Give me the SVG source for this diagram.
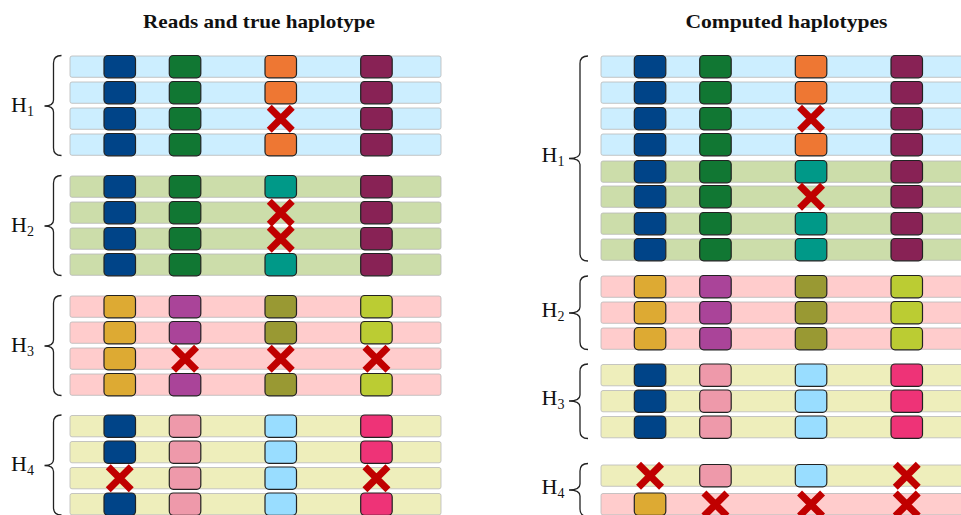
<svg xmlns="http://www.w3.org/2000/svg" xmlns:xlink="http://www.w3.org/1999/xlink" width="961" height="515" viewBox="0 0 961 515">
<style>
.title{font-family:"Liberation Serif","DejaVu Serif",serif;font-weight:bold;font-size:19px;fill:#111;text-anchor:middle}
.lab{font-family:"Liberation Serif","DejaVu Serif",serif;font-size:22px;fill:#111}
.sub{font-size:14px}
.bar{stroke:#b9b9b9;stroke-width:0.8}
.pb{fill:#CCEEFF}.pg{fill:#CCDDAA}.pr{fill:#FFCCCC}.py{fill:#EEEEBB}
.blk{stroke:#222;stroke-width:1.2}
.B{fill:#004488}.G{fill:#117733}.O{fill:#EE7733}.W{fill:#882255}.T{fill:#009988}
.S{fill:#DDAA33}.P{fill:#AA4499}.Ol{fill:#999933}.L{fill:#BBCC33}
.Pk{fill:#EE99AA}.LB{fill:#99DDFF}.M{fill:#EE3377}
.brace{fill:none;stroke:#222;stroke-width:1.3}
</style>
<defs>
<g id="x"><path d="M-11.5,-11.5L11.5,11.5M-11.5,11.5L11.5,-11.5" stroke="#C00000" stroke-width="7" fill="none"/></g>
</defs>

<text class="title" x="259" y="28" textLength="232" lengthAdjust="spacingAndGlyphs">Reads and true haplotype</text>
<text class="title" x="786.5" y="28" textLength="202" lengthAdjust="spacingAndGlyphs">Computed haplotypes</text>

<!-- LEFT PANEL -->
<g id="L-H1">
<g id="L-H1-r1"><rect class="bar pb" x="70" y="56" width="371" height="21.3" rx="2"/><rect class="blk B" x="104" y="55.5" width="31.5" height="22.3" rx="4"/><rect class="blk G" x="169.3" y="55.5" width="31.5" height="22.3" rx="4"/><rect class="blk O" x="265" y="55.5" width="31.5" height="22.3" rx="4"/><rect class="blk W" x="360.7" y="55.5" width="31.5" height="22.3" rx="4"/></g>
<g id="L-H1-r2"><rect class="bar pb" x="70" y="82" width="371" height="21.3" rx="2"/><rect class="blk B" x="104" y="81.5" width="31.5" height="22.3" rx="4"/><rect class="blk G" x="169.3" y="81.5" width="31.5" height="22.3" rx="4"/><rect class="blk O" x="265" y="81.5" width="31.5" height="22.3" rx="4"/><rect class="blk W" x="360.7" y="81.5" width="31.5" height="22.3" rx="4"/></g>
<g id="L-H1-r3"><rect class="bar pb" x="70" y="108" width="371" height="21.3" rx="2"/><rect class="blk B" x="104" y="107.5" width="31.5" height="22.3" rx="4"/><rect class="blk G" x="169.3" y="107.5" width="31.5" height="22.3" rx="4"/><use xlink:href="#x" x="280.75" y="118.7"/><rect class="blk W" x="360.7" y="107.5" width="31.5" height="22.3" rx="4"/></g>
<g id="L-H1-r4"><rect class="bar pb" x="70" y="134" width="371" height="21.3" rx="2"/><rect class="blk B" x="104" y="133.5" width="31.5" height="22.3" rx="4"/><rect class="blk G" x="169.3" y="133.5" width="31.5" height="22.3" rx="4"/><rect class="blk O" x="265" y="133.5" width="31.5" height="22.3" rx="4"/><rect class="blk W" x="360.7" y="133.5" width="31.5" height="22.3" rx="4"/></g>
</g>
<g id="L-H2">
<g id="L-H2-r1"><rect class="bar pg" x="70" y="176" width="371" height="21.3" rx="2"/><rect class="blk B" x="104" y="175.5" width="31.5" height="22.3" rx="4"/><rect class="blk G" x="169.3" y="175.5" width="31.5" height="22.3" rx="4"/><rect class="blk T" x="265" y="175.5" width="31.5" height="22.3" rx="4"/><rect class="blk W" x="360.7" y="175.5" width="31.5" height="22.3" rx="4"/></g>
<g id="L-H2-r2"><rect class="bar pg" x="70" y="202" width="371" height="21.3" rx="2"/><rect class="blk B" x="104" y="201.5" width="31.5" height="22.3" rx="4"/><rect class="blk G" x="169.3" y="201.5" width="31.5" height="22.3" rx="4"/><rect class="blk W" x="360.7" y="201.5" width="31.5" height="22.3" rx="4"/></g>
<g id="L-H2-r3"><rect class="bar pg" x="70" y="228" width="371" height="21.3" rx="2"/><rect class="blk B" x="104" y="227.5" width="31.5" height="22.3" rx="4"/><rect class="blk G" x="169.3" y="227.5" width="31.5" height="22.3" rx="4"/><rect class="blk W" x="360.7" y="227.5" width="31.5" height="22.3" rx="4"/></g>
<g id="L-H2-r4"><rect class="bar pg" x="70" y="254" width="371" height="21.3" rx="2"/><rect class="blk B" x="104" y="253.5" width="31.5" height="22.3" rx="4"/><rect class="blk G" x="169.3" y="253.5" width="31.5" height="22.3" rx="4"/><rect class="blk T" x="265" y="253.5" width="31.5" height="22.3" rx="4"/><rect class="blk W" x="360.7" y="253.5" width="31.5" height="22.3" rx="4"/></g>
<use xlink:href="#x" x="280.75" y="212.7"/><use xlink:href="#x" x="280.75" y="238.7"/>
</g>
<g id="L-H3">
<g id="L-H3-r1"><rect class="bar pr" x="70" y="296" width="371" height="21.3" rx="2"/><rect class="blk S" x="104" y="295.5" width="31.5" height="22.3" rx="4"/><rect class="blk P" x="169.3" y="295.5" width="31.5" height="22.3" rx="4"/><rect class="blk Ol" x="265" y="295.5" width="31.5" height="22.3" rx="4"/><rect class="blk L" x="360.7" y="295.5" width="31.5" height="22.3" rx="4"/></g>
<g id="L-H3-r2"><rect class="bar pr" x="70" y="322" width="371" height="21.3" rx="2"/><rect class="blk S" x="104" y="321.5" width="31.5" height="22.3" rx="4"/><rect class="blk P" x="169.3" y="321.5" width="31.5" height="22.3" rx="4"/><rect class="blk Ol" x="265" y="321.5" width="31.5" height="22.3" rx="4"/><rect class="blk L" x="360.7" y="321.5" width="31.5" height="22.3" rx="4"/></g>
<g id="L-H3-r3"><rect class="bar pr" x="70" y="348" width="371" height="21.3" rx="2"/><rect class="blk S" x="104" y="347.5" width="31.5" height="22.3" rx="4"/></g>
<g id="L-H3-r4"><rect class="bar pr" x="70" y="374" width="371" height="21.3" rx="2"/><rect class="blk S" x="104" y="373.5" width="31.5" height="22.3" rx="4"/><rect class="blk P" x="169.3" y="373.5" width="31.5" height="22.3" rx="4"/><rect class="blk Ol" x="265" y="373.5" width="31.5" height="22.3" rx="4"/><rect class="blk L" x="360.7" y="373.5" width="31.5" height="22.3" rx="4"/></g>
<use xlink:href="#x" x="185.05" y="358.7"/><use xlink:href="#x" x="280.75" y="358.7"/><use xlink:href="#x" x="376.45" y="358.7"/>
</g>
<g id="L-H4">
<g id="L-H4-r1"><rect class="bar py" x="70" y="415.5" width="371" height="21.3" rx="2"/><rect class="blk B" x="104" y="415" width="31.5" height="22.3" rx="4"/><rect class="blk Pk" x="169.3" y="415" width="31.5" height="22.3" rx="4"/><rect class="blk LB" x="265" y="415" width="31.5" height="22.3" rx="4"/><rect class="blk M" x="360.7" y="415" width="31.5" height="22.3" rx="4"/></g>
<g id="L-H4-r2"><rect class="bar py" x="70" y="441.5" width="371" height="21.3" rx="2"/><rect class="blk B" x="104" y="441" width="31.5" height="22.3" rx="4"/><rect class="blk Pk" x="169.3" y="441" width="31.5" height="22.3" rx="4"/><rect class="blk LB" x="265" y="441" width="31.5" height="22.3" rx="4"/><rect class="blk M" x="360.7" y="441" width="31.5" height="22.3" rx="4"/></g>
<g id="L-H4-r3"><rect class="bar py" x="70" y="467.5" width="371" height="21.3" rx="2"/><rect class="blk Pk" x="169.3" y="467" width="31.5" height="22.3" rx="4"/><rect class="blk LB" x="265" y="467" width="31.5" height="22.3" rx="4"/></g>
<g id="L-H4-r4"><rect class="bar py" x="70" y="493.5" width="371" height="21.3" rx="2"/><rect class="blk B" x="104" y="493" width="31.5" height="22.3" rx="4"/><rect class="blk Pk" x="169.3" y="493" width="31.5" height="22.3" rx="4"/><rect class="blk LB" x="265" y="493" width="31.5" height="22.3" rx="4"/><rect class="blk M" x="360.7" y="493" width="31.5" height="22.3" rx="4"/></g>
<use xlink:href="#x" x="119.75" y="478.2"/><use xlink:href="#x" x="376.45" y="478.2"/>
</g>

<!-- RIGHT PANEL -->
<g id="R-H1">
<g id="R-H1-r1"><rect class="bar pb" x="601" y="56" width="380" height="21.3" rx="2"/><rect class="blk B" x="634.3" y="55.5" width="31.5" height="22.3" rx="4"/><rect class="blk G" x="699.7" y="55.5" width="31.5" height="22.3" rx="4"/><rect class="blk O" x="795.3" y="55.5" width="31.5" height="22.3" rx="4"/><rect class="blk W" x="891" y="55.5" width="31.5" height="22.3" rx="4"/></g>
<g id="R-H1-r2"><rect class="bar pb" x="601" y="82" width="380" height="21.3" rx="2"/><rect class="blk B" x="634.3" y="81.5" width="31.5" height="22.3" rx="4"/><rect class="blk G" x="699.7" y="81.5" width="31.5" height="22.3" rx="4"/><rect class="blk O" x="795.3" y="81.5" width="31.5" height="22.3" rx="4"/><rect class="blk W" x="891" y="81.5" width="31.5" height="22.3" rx="4"/></g>
<g id="R-H1-r3"><rect class="bar pb" x="601" y="108" width="380" height="21.3" rx="2"/><rect class="blk B" x="634.3" y="107.5" width="31.5" height="22.3" rx="4"/><rect class="blk G" x="699.7" y="107.5" width="31.5" height="22.3" rx="4"/><use xlink:href="#x" x="811.05" y="118.7"/><rect class="blk W" x="891" y="107.5" width="31.5" height="22.3" rx="4"/></g>
<g id="R-H1-r4"><rect class="bar pb" x="601" y="134" width="380" height="21.3" rx="2"/><rect class="blk B" x="634.3" y="133.5" width="31.5" height="22.3" rx="4"/><rect class="blk G" x="699.7" y="133.5" width="31.5" height="22.3" rx="4"/><rect class="blk O" x="795.3" y="133.5" width="31.5" height="22.3" rx="4"/><rect class="blk W" x="891" y="133.5" width="31.5" height="22.3" rx="4"/></g>
<g id="R-H1-r5"><rect class="bar pg" x="601" y="161" width="380" height="21.3" rx="2"/><rect class="blk B" x="634.3" y="160.5" width="31.5" height="22.3" rx="4"/><rect class="blk G" x="699.7" y="160.5" width="31.5" height="22.3" rx="4"/><rect class="blk T" x="795.3" y="160.5" width="31.5" height="22.3" rx="4"/><rect class="blk W" x="891" y="160.5" width="31.5" height="22.3" rx="4"/></g>
<g id="R-H1-r6"><rect class="bar pg" x="601" y="186" width="380" height="21.3" rx="2"/><rect class="blk B" x="634.3" y="185.5" width="31.5" height="22.3" rx="4"/><rect class="blk G" x="699.7" y="185.5" width="31.5" height="22.3" rx="4"/><use xlink:href="#x" x="811.05" y="196.7"/><rect class="blk W" x="891" y="185.5" width="31.5" height="22.3" rx="4"/></g>
<g id="R-H1-r7"><rect class="bar pg" x="601" y="213" width="380" height="21.3" rx="2"/><rect class="blk B" x="634.3" y="212.5" width="31.5" height="22.3" rx="4"/><rect class="blk G" x="699.7" y="212.5" width="31.5" height="22.3" rx="4"/><rect class="blk T" x="795.3" y="212.5" width="31.5" height="22.3" rx="4"/><rect class="blk W" x="891" y="212.5" width="31.5" height="22.3" rx="4"/></g>
<g id="R-H1-r8"><rect class="bar pg" x="601" y="239" width="380" height="21.3" rx="2"/><rect class="blk B" x="634.3" y="238.5" width="31.5" height="22.3" rx="4"/><rect class="blk G" x="699.7" y="238.5" width="31.5" height="22.3" rx="4"/><rect class="blk T" x="795.3" y="238.5" width="31.5" height="22.3" rx="4"/><rect class="blk W" x="891" y="238.5" width="31.5" height="22.3" rx="4"/></g>
</g>
<g id="R-H2">
<g id="R-H2-r1"><rect class="bar pr" x="601" y="276" width="380" height="21.3" rx="2"/><rect class="blk S" x="634.3" y="275.5" width="31.5" height="22.3" rx="4"/><rect class="blk P" x="699.7" y="275.5" width="31.5" height="22.3" rx="4"/><rect class="blk Ol" x="795.3" y="275.5" width="31.5" height="22.3" rx="4"/><rect class="blk L" x="891" y="275.5" width="31.5" height="22.3" rx="4"/></g>
<g id="R-H2-r2"><rect class="bar pr" x="601" y="302" width="380" height="21.3" rx="2"/><rect class="blk S" x="634.3" y="301.5" width="31.5" height="22.3" rx="4"/><rect class="blk P" x="699.7" y="301.5" width="31.5" height="22.3" rx="4"/><rect class="blk Ol" x="795.3" y="301.5" width="31.5" height="22.3" rx="4"/><rect class="blk L" x="891" y="301.5" width="31.5" height="22.3" rx="4"/></g>
<g id="R-H2-r3"><rect class="bar pr" x="601" y="328" width="380" height="21.3" rx="2"/><rect class="blk S" x="634.3" y="327.5" width="31.5" height="22.3" rx="4"/><rect class="blk P" x="699.7" y="327.5" width="31.5" height="22.3" rx="4"/><rect class="blk Ol" x="795.3" y="327.5" width="31.5" height="22.3" rx="4"/><rect class="blk L" x="891" y="327.5" width="31.5" height="22.3" rx="4"/></g>
</g>
<g id="R-H3">
<g id="R-H3-r1"><rect class="bar py" x="601" y="364.5" width="380" height="21.3" rx="2"/><rect class="blk B" x="634.3" y="364" width="31.5" height="22.3" rx="4"/><rect class="blk Pk" x="699.7" y="364" width="31.5" height="22.3" rx="4"/><rect class="blk LB" x="795.3" y="364" width="31.5" height="22.3" rx="4"/><rect class="blk M" x="891" y="364" width="31.5" height="22.3" rx="4"/></g>
<g id="R-H3-r2"><rect class="bar py" x="601" y="390.5" width="380" height="21.3" rx="2"/><rect class="blk B" x="634.3" y="390" width="31.5" height="22.3" rx="4"/><rect class="blk Pk" x="699.7" y="390" width="31.5" height="22.3" rx="4"/><rect class="blk LB" x="795.3" y="390" width="31.5" height="22.3" rx="4"/><rect class="blk M" x="891" y="390" width="31.5" height="22.3" rx="4"/></g>
<g id="R-H3-r3"><rect class="bar py" x="601" y="416.5" width="380" height="21.3" rx="2"/><rect class="blk B" x="634.3" y="416" width="31.5" height="22.3" rx="4"/><rect class="blk Pk" x="699.7" y="416" width="31.5" height="22.3" rx="4"/><rect class="blk LB" x="795.3" y="416" width="31.5" height="22.3" rx="4"/><rect class="blk M" x="891" y="416" width="31.5" height="22.3" rx="4"/></g>
</g>
<g id="R-H4">
<g id="R-H4-r1"><rect class="bar py" x="601" y="465" width="380" height="21.3" rx="2"/><rect class="blk Pk" x="699.7" y="464.5" width="31.5" height="22.3" rx="4"/><rect class="blk LB" x="795.3" y="464.5" width="31.5" height="22.3" rx="4"/></g>
<g id="R-H4-r2"><rect class="bar pr" x="601" y="493.5" width="380" height="21.3" rx="2"/><rect class="blk S" x="634.3" y="493" width="31.5" height="22.3" rx="4"/></g>
<use xlink:href="#x" x="650.05" y="475.8"/><use xlink:href="#x" x="906.75" y="475.8"/>
<use xlink:href="#x" x="715.45" y="504.5"/><use xlink:href="#x" x="811.05" y="504.5"/><use xlink:href="#x" x="906.75" y="504.5"/>
</g>

<!-- BRACES AND LABELS -->
<g id="connectors">
<path class="brace" d="M61.5,55.5Q53.5,55.5 53.5,63L53.5,100Q53.5,106 44.5,106Q53.5,106 53.5,112L53.5,148Q53.5,155.5 61.5,155.5"/>
<path class="brace" d="M61.5,175.5Q53.5,175.5 53.5,183L53.5,220Q53.5,226 44.5,226Q53.5,226 53.5,232L53.5,268Q53.5,275.5 61.5,275.5"/>
<path class="brace" d="M61.5,295.5Q53.5,295.5 53.5,303L53.5,340Q53.5,346 44.5,346Q53.5,346 53.5,352L53.5,388Q53.5,395.5 61.5,395.5"/>
<path class="brace" d="M61.5,415Q53.5,415 53.5,422.5L53.5,459.5Q53.5,465.5 44.5,465.5Q53.5,465.5 53.5,471.5L53.5,507.5Q53.5,515 61.5,515"/>
<path class="brace" d="M588,56Q580,56 580,63.5L580,152.5Q580,158.5 569,158.5Q580,158.5 580,164.5L580,253.5Q580,261 588,261"/>
<path class="brace" d="M588,276Q580,276 580,283.5L580,307Q580,313 569,313Q580,313 580,319L580,342Q580,349.5 588,349.5"/>
<path class="brace" d="M588,364Q580,364 580,371.5L580,395Q580,401 569,401Q580,401 580,407L580,431Q580,438.5 588,438.5"/>
<path class="brace" d="M588,463.5Q580,463.5 580,471L580,484Q580,490 569,490Q580,490 580,496L580,509Q580,516.5 588,516.5"/>
</g>
<g id="labels">
<text class="lab" x="11" y="111.5">H<tspan class="sub" dy="4">1</tspan></text>
<text class="lab" x="11" y="231.5">H<tspan class="sub" dy="4">2</tspan></text>
<text class="lab" x="11" y="351.5">H<tspan class="sub" dy="4">3</tspan></text>
<text class="lab" x="11" y="471">H<tspan class="sub" dy="4">4</tspan></text>
<text class="lab" x="541.5" y="161.5">H<tspan class="sub" dy="4">1</tspan></text>
<text class="lab" x="541.5" y="316.5">H<tspan class="sub" dy="4">2</tspan></text>
<text class="lab" x="541.5" y="404.5">H<tspan class="sub" dy="4">3</tspan></text>
<text class="lab" x="541.5" y="493.5">H<tspan class="sub" dy="4">4</tspan></text>
</g>
</svg>
